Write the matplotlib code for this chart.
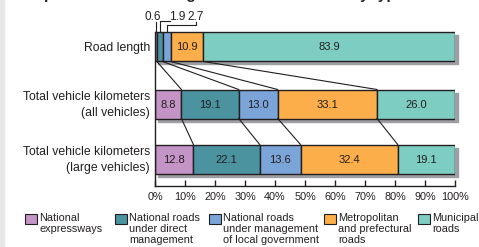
import matplotlib.pyplot as plt
from matplotlib.patches import Rectangle
import numpy as np

plt.rcParams['font.family'] = ['Liberation Sans', 'DejaVu Sans']

# data
categories = ["Road length", "Total vehicle kilometers\n(all vehicles)",
              "Total vehicle kilometers\n(large vehicles)"]
road_types = ["National\nexpressways", "National roads\nunder direct\nmanagement",
              "National roads\nunder management\nof local government",
              "Metropolitan\nand prefectural\nroads", "Municipal\nroads"]
road_length = [0.6, 1.9, 2.7, 10.9, 83.9]
all_vehicles = [8.8, 19.1, 13.0, 33.1, 26.0]
large_vehicles = [12.8, 22.1, 13.6, 32.4, 19.1]
ticks = list(range(0, 101, 10))
tick_labels = [f"{t}%" for t in ticks]

colors = ["#c494c6", "#4b939f", "#7ba4d9", "#fbae4a", "#7ecdc3"]
edge = "#231f20"

W, H = 479, 247
fig = plt.figure(figsize=(W / 100, H / 100), dpi=100)
fig.patches.append(Rectangle((0, 0), 4 / W, 1, transform=fig.transFigure,
                             color="#e6e7e8", zorder=0))
# axes: x in percent, y in pixels from top
ax = fig.add_axes([155 / W, 0, 300 / W, 1])
ax.set_xlim(0, 100)
ax.set_ylim(H, 0)
ax.patch.set_visible(False)

series = [road_length, all_vehicles, large_vehicles]
y_pos = [47, 104, 159]
bar_h = 29
# shadow offsets (percent, px)
sx, sy = 1.0, 3

for vals, yc in zip(series, y_pos):
    lefts = np.concatenate([[0], np.cumsum(vals)[:-1]])
    ax.add_patch(Rectangle((sx, yc - bar_h / 2 + sy), sum(vals), bar_h,
                           color="#9d9fa2", zorder=1, clip_on=False))
    ax.barh(yc, vals, left=lefts, height=bar_h, color=colors,
            edgecolor=edge, linewidth=1.0, zorder=2)

# in-bar labels
for i, (vals, yc) in enumerate(zip(series, y_pos)):
    lefts = np.concatenate([[0], np.cumsum(vals)[:-1]])
    for j, (l, v) in enumerate(zip(lefts, vals)):
        if i == 0 and j < 3:
            continue
        ax.text(l + v / 2, yc + 0.5, f"{v:.1f}", ha="center", va="center",
                fontsize=8, color=edge, zorder=3)

# small labels above road length bar with leaders
top0 = y_pos[0] - bar_h / 2
c0 = np.cumsum(road_length)
mids = c0 - np.array(road_length) / 2
ax.text(-0.7, 16.5, f"{road_length[0]:.1f}", ha="center", va="center", fontsize=8.5, color=edge)
ax.text(7.3, 16.5, f"{road_length[1]:.1f}", ha="center", va="center", fontsize=8.5, color=edge)
ax.text(13.7, 16.5, f"{road_length[2]:.1f}", ha="center", va="center", fontsize=8.5, color=edge)
lk = dict(color=edge, lw=0.8, clip_on=False, zorder=3)
ax.plot([mids[0], mids[0]], [top0, 22], **lk)
ax.plot([mids[1], mids[1], 5.0], [top0, 21.5, 21.5], **lk)
ax.plot([mids[2], mids[2], 13.7, 13.7], [top0, 25.5, 25.5, 22], **lk)

# connecting lines between bars
for up, lo, yu, yl in [(road_length, all_vehicles, y_pos[0], y_pos[1]),
                       (all_vehicles, large_vehicles, y_pos[1], y_pos[2])]:
    cu = np.cumsum(up)[:-1]
    cl = np.cumsum(lo)[:-1]
    for a, b in zip(cu, cl):
        ax.plot([a, b], [yu + bar_h / 2, yl - bar_h / 2], **lk)

# category labels
for cat, yc in zip(categories, y_pos):
    ax.text(-1.7, yc + 1, cat, ha="right", va="center", fontsize=8.8,
            color=edge, linespacing=1.35)

# axis
for s in ["top", "right"]:
    ax.spines[s].set_visible(False)
ax.spines["bottom"].set_position(("data", 186))
ax.spines["bottom"].set_bounds(0, 100)
ax.spines["left"].set_bounds(top0, 186)
for s in ["bottom", "left"]:
    ax.spines[s].set_color(edge)
    ax.spines[s].set_linewidth(1.0)
ax.set_yticks([])
ax.set_xticks(ticks)
ax.set_xticklabels(tick_labels, fontsize=7.8, color=edge)
ax.tick_params(axis="x", direction="in", length=4, width=1, color=edge, pad=4)

# legend
leg_x = [25, 115, 209, 324, 418]
for x, lab, c in zip(leg_x, road_types, colors):
    fig.patches.append(Rectangle((x / W, 1 - 224 / H), 12 / W, 10 / H,
                                 transform=fig.transFigure, facecolor=c,
                                 edgecolor=edge, linewidth=0.8))
    fig.text((x + 14) / W, 1 - 213 / H, lab, ha="left", va="top",
             fontsize=7.8, color=edge, linespacing=1.15)

# title (cropped at top of picture)
fig.text(10 / W, 1 + 1 / H, "Composition of road length and traffic volume by type of road",
         ha="left", va="baseline", fontsize=11, fontweight="bold", color=edge)

fig.savefig("out.png", dpi=100)
